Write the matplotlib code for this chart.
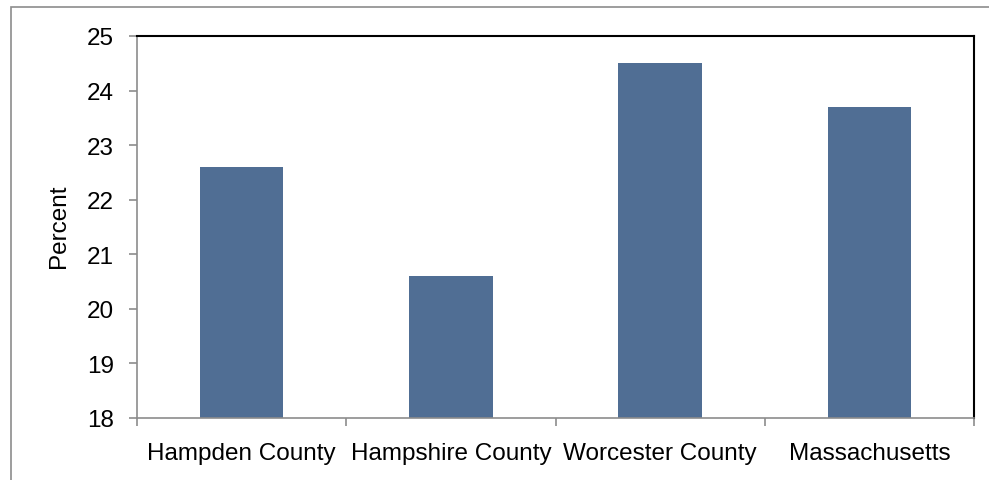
import matplotlib
matplotlib.use('agg')

import matplotlib.pyplot as plt
from matplotlib.patches import Rectangle
import numpy as np

# data
categories = ["Hampden County", "Hampshire County", "Worcester County", "Massachusetts"]
percent = [22.6, 20.6, 24.5, 23.7]
y_ticks = [18, 19, 20, 21, 22, 23, 24, 25]

plt.rcParams['font.family'] = ['Liberation Sans', 'DejaVu Sans']

W, H = 989, 481
fig = plt.figure(figsize=(W / 100, H / 100), dpi=100)
ax = fig.add_axes([137 / W, 1 - 419 / H, (974 - 137) / W, (419 - 37) / H])

# outer gray frame (cut off at right and bottom in the original)
fig.patches.append(Rectangle((11 / W, -0.2), 1.2, 1.2 - 7.5 / H,
                             transform=fig.transFigure, fill=False,
                             edgecolor='#8c8c8c', linewidth=1.2, clip_on=False))

x = np.arange(len(categories))
ax.bar(x, percent, width=0.4, color='#506e94', zorder=2)

ax.set_xlim(-0.5, len(categories) - 0.5)
ax.set_ylim(18, 25)
ax.set_yticks(y_ticks)

# category labels centered, ticks at boundaries
ax.set_xticks(x)
ax.set_xticklabels(categories)
ax.set_xticks(np.arange(len(categories) + 1) - 0.5, minor=True)
ax.tick_params(axis='x', which='major', length=0, pad=17, labelsize=17.5)
ax.tick_params(axis='x', which='minor', length=5.5, width=1.2, color='#8c8c8c')
ax.tick_params(axis='y', length=5.5, width=1.2, color='#8c8c8c', pad=11, labelsize=17.5)

for side in ['left', 'bottom']:
    ax.spines[side].set_color('#8c8c8c')
    ax.spines[side].set_linewidth(1.2)
for side in ['top', 'right']:
    ax.spines[side].set_color('black')
    ax.spines[side].set_linewidth(1.5)

ax.set_ylabel("Percent", fontsize=17.5)
ax.yaxis.set_label_coords(-0.080, 0.505)

fig.savefig("out.png", dpi=100)
